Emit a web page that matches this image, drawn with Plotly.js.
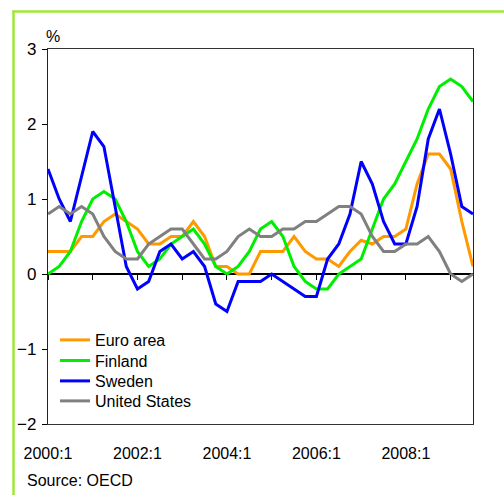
<!DOCTYPE html>
<html>
<head>
<meta charset="utf-8">
<script src="https://cdn.plot.ly/plotly-3.0.1.min.js"></script>
<style>
html,body{margin:0;padding:0;background:#fff;}
#chart{width:504px;height:495px;}
</style>
</head>
<body>
<div id="chart"></div>
<script>
const quarters = ["2000:1","2000:2","2000:3","2000:4","2001:1","2001:2","2001:3","2001:4",
  "2002:1","2002:2","2002:3","2002:4","2003:1","2003:2","2003:3","2003:4",
  "2004:1","2004:2","2004:3","2004:4","2005:1","2005:2","2005:3","2005:4",
  "2006:1","2006:2","2006:3","2006:4","2007:1","2007:2","2007:3","2007:4",
  "2008:1","2008:2","2008:3","2008:4","2009:1","2009:2","2009:3"];
const euroArea = [0.3,0.3,0.3,0.5,0.5,0.7,0.8,0.7,0.6,0.4,0.4,0.5,0.5,0.7,0.5,0.1,0.1,0.0,0.0,0.3,0.3,0.3,0.5,0.3,0.2,0.2,0.1,0.3,0.45,0.4,0.5,0.5,0.6,1.2,1.6,1.6,1.4,0.7,0.1];
const finland = [0.0,0.1,0.3,0.7,1.0,1.1,1.0,0.7,0.3,0.1,0.2,0.4,0.5,0.6,0.4,0.1,0.0,0.1,0.3,0.6,0.7,0.5,0.1,-0.1,-0.2,-0.2,0.0,0.1,0.2,0.6,1.0,1.2,1.5,1.8,2.2,2.5,2.6,2.5,2.3];
const sweden = [1.4,1.0,0.7,1.3,1.9,1.7,0.9,0.1,-0.2,-0.1,0.3,0.4,0.2,0.3,0.1,-0.4,-0.5,-0.1,-0.1,-0.1,0.0,-0.1,-0.2,-0.3,-0.3,0.2,0.4,0.8,1.5,1.2,0.7,0.4,0.4,0.9,1.8,2.2,1.6,0.9,0.8];
const unitedStates = [0.8,0.9,0.8,0.9,0.8,0.5,0.3,0.2,0.2,0.4,0.5,0.6,0.6,0.4,0.2,0.2,0.3,0.5,0.6,0.5,0.5,0.6,0.6,0.7,0.7,0.8,0.9,0.9,0.8,0.5,0.3,0.3,0.4,0.4,0.5,0.3,0.0,-0.1,0.0];
const seriesNames = ["Euro area","Finland","Sweden","United States"];
const xTickLabels = ["2000:1","2002:1","2004:1","2006:1","2008:1"];
const yTickValues = [-2,-1,0,1,2,3];

const FONT = "'Liberation Sans',Arial,sans-serif";
const colors = ["#FF9900","#00EE00","#0000FF","#808080"];
const allSeries = [euroArea, finland, sweden, unitedStates];
const legendIds = ["legend","legend2","legend3","legend4"];

const traces = allSeries.map((vals, k) => ({
  type: "scatter", mode: "lines",
  x: quarters, y: vals,
  name: seriesNames[k],
  line: {color: colors[k], width: 3},
  legend: legendIds[k],
  hoverinfo: "skip"
}));
// invisible trace on the tick axis to carry the year tick marks on the zero line
traces.push({type:"scatter", mode:"lines", x:[0,38], y:[0,0], xaxis:"x2", yaxis:"y",
  line:{color:"rgba(0,0,0,0)", width:0}, showlegend:false, hoverinfo:"skip"});

// plot geometry (px): left 48, right 473, top 49, bottom 424
const plotL = 48, plotR = 473, plotT = 49, plotB = 424;
const pw = plotR - plotL, ph = plotB - plotT;
const px = v => (v - plotL) / pw;
const py = v => (plotB - v) / ph;

const legendRowsY = [340, 360.5, 381, 401];
const legendCommon = k => ({
  x: px(55), y: py(legendRowsY[k]), xanchor: "left", yanchor: "middle",
  bgcolor: "rgba(0,0,0,0)", borderwidth: 0,
  font: {family: FONT, size: 16, color: "#000"}
});

const layout = {
  width: 504, height: 495,
  margin: {l: plotL, r: 504 - plotR, t: plotT, b: 495 - plotB, pad: 0},
  paper_bgcolor: "#fff", plot_bgcolor: "#fff",
  font: {family: FONT, size: 16, color: "#000"},
  showlegend: true,
  legend: legendCommon(0), legend2: legendCommon(1), legend3: legendCommon(2), legend4: legendCommon(3),
  xaxis: {
    type: "category", range: [0, 38],
    tickmode: "array", tickvals: xTickLabels, ticktext: xTickLabels,
    ticks: "", ticklabelstandoff: 15,
    showgrid: false, zeroline: false,
    showline: true, linecolor: "#333", linewidth: 1, mirror: true,
    tickfont: {family: FONT, size: 16, color: "#000"}, fixedrange: true
  },
  xaxis2: {
    overlaying: "x", anchor: "free", position: 0.4, range: [0, 38],
    tickmode: "linear", tick0: 0, dtick: 4,
    ticks: "outside", ticklen: 5, tickwidth: 1, tickcolor: "#000",
    showticklabels: false, showgrid: false, zeroline: false, showline: false
  },
  yaxis: {
    range: [-2, 3], tickmode: "array", tickvals: yTickValues,
    ticks: "outside", ticklen: 5, tickwidth: 1, tickcolor: "#000",
    ticklabelstandoff: 2,
    showgrid: false, zeroline: true, zerolinecolor: "#000", zerolinewidth: 1.5,
    showline: true, linecolor: "#222", linewidth: 1.2, mirror: true,
    tickfont: {family: FONT, size: 17, color: "#000"}, fixedrange: true
  },
  annotations: [
    {text: "%", xref: "paper", yref: "paper", x: px(52.5), y: py(37), xanchor: "center", yanchor: "middle",
     showarrow: false, font: {family: FONT, size: 16, color: "#000"}},
    {text: "Source: OECD", xref: "paper", yref: "paper", x: px(25), y: py(480), xanchor: "left", yanchor: "middle",
     showarrow: false, font: {family: FONT, size: 16, color: "#000"}}
  ],
  shapes: [
    {type: "line", xref: "paper", yref: "paper", x0: px(13.5), x1: px(13.5), y0: py(10.5), y1: py(500),
     line: {color: "#9EE83A", width: 2.5}},
    {type: "line", xref: "paper", yref: "paper", x0: px(12.5), x1: px(510), y0: py(11.5), y1: py(11.5),
     line: {color: "#9EE83A", width: 2.5}}
  ]
};

Plotly.newPlot("chart", traces, layout, {displayModeBar: false, staticPlot: true});
</script>
</body>
</html>
